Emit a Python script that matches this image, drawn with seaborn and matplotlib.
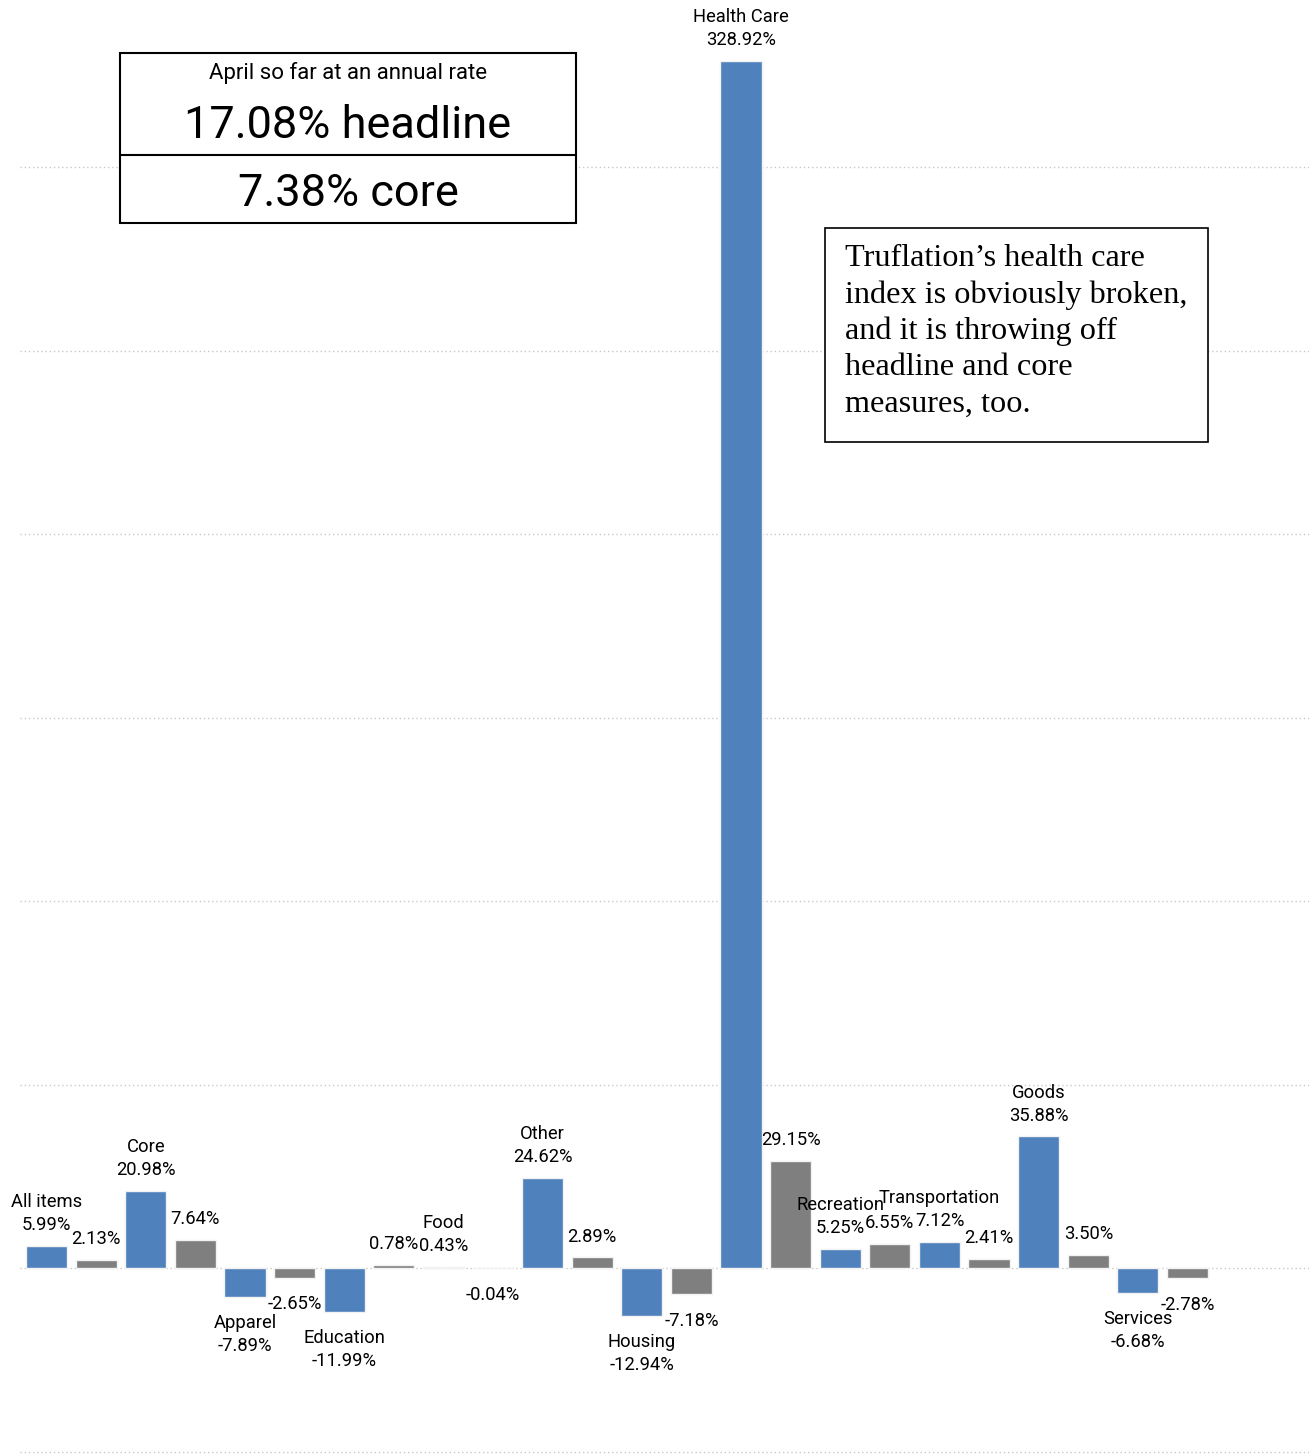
import matplotlib
matplotlib.use("Agg")
import matplotlib.pyplot as plt
from matplotlib.patches import Rectangle
from matplotlib.lines import Line2D
import seaborn as sns
import pandas as pd

# Category names (one blue/gray pair per category)
categories = ["All items", "Core", "Apparel", "Education", "Food", "Other",
              "Housing", "Health Care", "Recreation", "Transportation",
              "Goods", "Services"]
# Annualized rates, percent
truflation_rate = [5.99, 20.98, -7.89, -11.99, 0.43, 24.62,
                   -12.94, 328.92, 5.25, 7.12, 35.88, -6.68]
comparison_rate = [2.13, 7.64, -2.65, 0.78, -0.04, 2.89,
                   -7.18, 29.15, 6.55, 2.41, 3.50, -2.78]

headline_note = ["April so far at an annual rate", "17.08% headline", "7.38% core"]
side_note = ("Truflation\u2019s health care\nindex is obviously broken,\n"
             "and it is throwing off\nheadline and core\nmeasures, too.")

BLUE = "#4f81bd"
GRAY = "#7f7f7f"

rows = []
for name, a, b in zip(categories, truflation_rate, comparison_rate):
    rows.append({"slot": name, "series": "truflation", "value": a, "name": name})
    rows.append({"slot": name + " (cmp)", "series": "comparison", "value": b, "name": ""})
df = pd.DataFrame(rows)

sns.set_theme(style="white")
plt.rcParams["font.family"] = ["Roboto", "DejaVu Sans"]
plt.rcParams["text.color"] = "black"

W, H = 1309, 1454
fig = plt.figure(figsize=(W / 100, H / 100), dpi=100)
ax = fig.add_axes([20 / W, 0, 1 - 20 / W, 1])

sns.barplot(data=df, x="slot", y="value", hue="series", order=list(df["slot"]),
            palette={"truflation": BLUE, "comparison": GRAY}, dodge=False,
            saturation=1, width=0.83, edgecolor="#f2f2f2", linewidth=1.0,
            legend=False, ax=ax, zorder=2)

ax.set_xlim(-0.535, 25.45)
ax.set_ylim(-50.65, 345.5)
ax.set_yticks([-50, 0, 50, 100, 150, 200, 250, 300])
ax.yaxis.grid(True, linestyle=(0, (1, 2)), color="#c8c8c8", linewidth=1.0)
ax.set_axisbelow(True)
for s in ax.spines.values():
    s.set_visible(False)
ax.set_xticks([])
ax.set_yticklabels([])
ax.tick_params(left=False, bottom=False)
ax.set_xlabel("")
ax.set_ylabel("")

# Value labels: category name + value on blue bars, value only on gray bars
for i, r in df.iterrows():
    v = r["value"]
    txt = f"{v:.2f}%"
    if r["name"]:
        txt = r["name"] + "\n" + txt
    if v >= 0:
        ax.annotate(txt, (i, v), xytext=(0, 8.5), textcoords="offset points",
                    ha="center", va="bottom", fontsize=13.2, linespacing=1.35,
                    color="black")
    else:
        ax.annotate(txt, (i, v), xytext=(0, -12.5), textcoords="offset points",
                    ha="center", va="top", fontsize=13.2, linespacing=1.35,
                    color="black")

# Summary box, top left
def fx(px):
    return px / W

def fy(py):
    return 1 - py / H

fig.add_artist(Rectangle((fx(120), fy(223)), fx(576) - fx(120), fy(53) - fy(223),
                         transform=fig.transFigure, facecolor="white",
                         edgecolor="black", linewidth=1.5, zorder=3))
fig.add_artist(Line2D([fx(120), fx(576)], [fy(155), fy(155)],
                      transform=fig.transFigure, color="black", linewidth=1.5,
                      zorder=4))
fig.text(fx(348), fy(73), headline_note[0], ha="center", va="center",
         fontsize=16, zorder=5)
fig.text(fx(348), fy(126), headline_note[1], ha="center", va="center",
         fontsize=32.5, zorder=5)
fig.text(fx(348), fy(194), headline_note[2], ha="center", va="center",
         fontsize=32.5, zorder=5)

# Comment box, right
fig.add_artist(Rectangle((fx(825), fy(442)), fx(1208) - fx(825), fy(228) - fy(442),
                         transform=fig.transFigure, facecolor="white",
                         edgecolor="black", linewidth=1.2, zorder=3))
fig.text(fx(845), fy(244), side_note, ha="left", va="top",
         fontsize=23.2, family=["Liberation Serif", "DejaVu Serif"],
         linespacing=1.32, zorder=5)

fig.savefig("out.png", dpi=100)
